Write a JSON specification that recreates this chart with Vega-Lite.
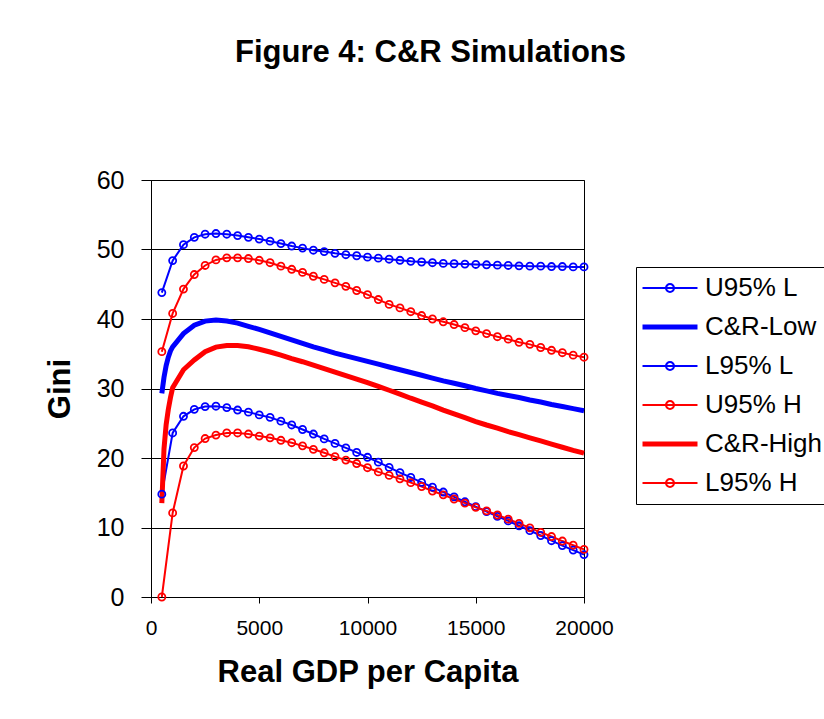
{
  "$schema": "https://vega.github.io/schema/vega-lite/v6.json",
  "autosize": "none",
  "width": 433,
  "height": 417,
  "padding": {"left": 151, "top": 180, "right": 240, "bottom": 122},
  "background": "white",
  "config": {
    "font": "Liberation Sans",
    "view": {"stroke": "#000000", "strokeWidth": 1}
  },
  "title": {
    "text": "Figure 4: C&R Simulations",
    "font": "Liberation Sans",
    "fontSize": 31,
    "fontWeight": "bold",
    "color": "#000000",
    "anchor": "middle",
    "frame": "group",
    "dx": 63,
    "offset": 99
  },
  "data": {
    "values": [
      {"x": 500, "UL": 43.8, "CL": 29.3, "LL": 14.8, "UH": 35.3, "CH": 13.5, "LH": 0},
      {"x": 600, "UL": null, "CL": 31.6, "LL": null, "UH": null, "CH": 21.3, "LH": null},
      {"x": 700, "UL": null, "CL": 33.3, "LL": null, "UH": null, "CH": 24.8, "LH": null},
      {"x": 800, "UL": null, "CL": 34.5, "LL": null, "UH": null, "CH": 27.0, "LH": null},
      {"x": 900, "UL": null, "CL": 35.4, "LL": null, "UH": null, "CH": 28.7, "LH": null},
      {"x": 1000, "UL": 48.4, "CL": 36.0, "LL": 23.6, "UH": 40.8, "CH": 30.1, "LH": 12.1},
      {"x": 1500, "UL": 50.7, "CL": 37.9, "LL": 26.0, "UH": 44.3, "CH": 32.7, "LH": 18.85},
      {"x": 2000, "UL": 51.75, "CL": 39.1, "LL": 27.0, "UH": 46.4, "CH": 34.1, "LH": 21.5},
      {"x": 2500, "UL": 52.2, "CL": 39.7, "LL": 27.4, "UH": 47.7, "CH": 35.3, "LH": 22.8},
      {"x": 3000, "UL": 52.3, "CL": 39.85, "LL": 27.45, "UH": 48.5, "CH": 35.95, "LH": 23.3},
      {"x": 3500, "UL": 52.2, "CL": 39.7, "LL": 27.25, "UH": 48.8, "CH": 36.2, "LH": 23.6},
      {"x": 4000, "UL": 52.0, "CL": 39.4, "LL": 26.9, "UH": 48.8, "CH": 36.2, "LH": 23.6},
      {"x": 4500, "UL": 51.75, "CL": 38.95, "LL": 26.6, "UH": 48.7, "CH": 36.0, "LH": 23.45},
      {"x": 5000, "UL": 51.5, "CL": 38.5, "LL": 26.2, "UH": 48.45, "CH": 35.65, "LH": 23.15},
      {"x": 5500, "UL": 51.2, "CL": 38.0, "LL": 25.85, "UH": 48.1, "CH": 35.25, "LH": 22.9},
      {"x": 6000, "UL": 50.85, "CL": 37.5, "LL": 25.3, "UH": 47.6, "CH": 34.8, "LH": 22.55},
      {"x": 6500, "UL": 50.5, "CL": 37.0, "LL": 24.75, "UH": 47.15, "CH": 34.3, "LH": 22.2},
      {"x": 7000, "UL": 50.2, "CL": 36.5, "LL": 24.1, "UH": 46.7, "CH": 33.85, "LH": 21.75},
      {"x": 7500, "UL": 49.9, "CL": 36.0, "LL": 23.45, "UH": 46.15, "CH": 33.35, "LH": 21.25},
      {"x": 8000, "UL": 49.7, "CL": 35.55, "LL": 22.75, "UH": 45.7, "CH": 32.85, "LH": 20.75},
      {"x": 8500, "UL": 49.45, "CL": 35.1, "LL": 22.1, "UH": 45.2, "CH": 32.35, "LH": 20.2},
      {"x": 9000, "UL": 49.25, "CL": 34.7, "LL": 21.45, "UH": 44.7, "CH": 31.85, "LH": 19.7},
      {"x": 9500, "UL": 49.1, "CL": 34.3, "LL": 20.8, "UH": 44.1, "CH": 31.35, "LH": 19.2},
      {"x": 10000, "UL": 48.9, "CL": 33.9, "LL": 20.1, "UH": 43.5, "CH": 30.85, "LH": 18.6},
      {"x": 10500, "UL": 48.75, "CL": 33.5, "LL": 19.4, "UH": 42.8, "CH": 30.3, "LH": 18.0},
      {"x": 11000, "UL": 48.6, "CL": 33.1, "LL": 18.65, "UH": 42.1, "CH": 29.75, "LH": 17.5},
      {"x": 11500, "UL": 48.45, "CL": 32.7, "LL": 17.9, "UH": 41.6, "CH": 29.2, "LH": 17.0},
      {"x": 12000, "UL": 48.3, "CL": 32.3, "LL": 17.2, "UH": 41.05, "CH": 28.6, "LH": 16.45},
      {"x": 12500, "UL": 48.2, "CL": 31.9, "LL": 16.5, "UH": 40.5, "CH": 28.05, "LH": 15.9},
      {"x": 13000, "UL": 48.1, "CL": 31.5, "LL": 15.8, "UH": 40.0, "CH": 27.5, "LH": 15.25},
      {"x": 13500, "UL": 48.0, "CL": 31.1, "LL": 15.1, "UH": 39.6, "CH": 26.9, "LH": 14.7},
      {"x": 14000, "UL": 47.95, "CL": 30.75, "LL": 14.4, "UH": 39.2, "CH": 26.35, "LH": 14.1},
      {"x": 14500, "UL": 47.9, "CL": 30.4, "LL": 13.7, "UH": 38.75, "CH": 25.8, "LH": 13.5},
      {"x": 15000, "UL": 47.85, "CL": 30.0, "LL": 13.0, "UH": 38.3, "CH": 25.25, "LH": 12.9},
      {"x": 15500, "UL": 47.8, "CL": 29.65, "LL": 12.3, "UH": 37.9, "CH": 24.75, "LH": 12.4},
      {"x": 16000, "UL": 47.75, "CL": 29.3, "LL": 11.6, "UH": 37.45, "CH": 24.3, "LH": 11.8},
      {"x": 16500, "UL": 47.7, "CL": 29.0, "LL": 10.95, "UH": 37.1, "CH": 23.8, "LH": 11.2},
      {"x": 17000, "UL": 47.65, "CL": 28.7, "LL": 10.25, "UH": 36.65, "CH": 23.35, "LH": 10.6},
      {"x": 17500, "UL": 47.6, "CL": 28.35, "LL": 9.55, "UH": 36.35, "CH": 22.9, "LH": 9.95},
      {"x": 18000, "UL": 47.6, "CL": 28.05, "LL": 8.85, "UH": 35.9, "CH": 22.45, "LH": 9.3},
      {"x": 18500, "UL": 47.55, "CL": 27.7, "LL": 8.1, "UH": 35.5, "CH": 22.0, "LH": 8.7},
      {"x": 19000, "UL": 47.55, "CL": 27.4, "LL": 7.4, "UH": 35.15, "CH": 21.55, "LH": 8.05},
      {"x": 19500, "UL": 47.5, "CL": 27.1, "LL": 6.75, "UH": 34.8, "CH": 21.1, "LH": 7.45},
      {"x": 20000, "UL": 47.5, "CL": 26.8, "LL": 6.1, "UH": 34.5, "CH": 20.7, "LH": 6.85}
    ]
  },
  "transform": [
    {"fold": ["UL", "CL", "LL", "UH", "CH", "LH"], "as": ["key", "gini"]},
    {"lookup": "key", "from": {"data": {"values": [
      {"key": "UL", "series": "U95% L"},
      {"key": "CL", "series": "C&R-Low"},
      {"key": "LL", "series": "L95% L"},
      {"key": "UH", "series": "U95% H"},
      {"key": "CH", "series": "C&R-High"},
      {"key": "LH", "series": "L95% H"}
    ]}, "key": "key", "fields": ["series"]}},
    {"filter": "isValid(datum.gini)"}
  ],
  "encoding": {
    "x": {
      "field": "x", "type": "quantitative",
      "scale": {"domain": [0, 20000], "nice": false, "zero": false},
      "axis": {
        "values": [0, 5000, 10000, 15000, 20000],
        "format": "d",
        "grid": false,
        "labelFlush": false,
        "domainColor": "#000000",
        "tickColor": "#000000",
        "tickSize": 6,
        "labelFontSize": 21,
        "labelColor": "#000000",
        "labelPadding": 14,
        "title": "Real GDP per Capita",
        "titleFontSize": 31,
        "titleFontWeight": "bold",
        "titleColor": "#000000",
        "titlePadding": 19
      }
    },
    "y": {
      "field": "gini", "type": "quantitative",
      "scale": {"domain": [0, 60], "nice": false},
      "axis": {
        "values": [0, 10, 20, 30, 40, 50, 60],
        "grid": true,
        "gridColor": "#000000",
        "gridOpacity": 1,
        "gridWidth": 1,
        "domainColor": "#000000",
        "tickColor": "#000000",
        "tickSize": 10,
        "labelFontSize": 25,
        "labelColor": "#000000",
        "labelPadding": 17,
        "title": "Gini",
        "titleFontSize": 31,
        "titleFontWeight": "bold",
        "titleColor": "#000000",
        "titlePadding": 20
      }
    },
    "color": {
      "field": "series", "type": "nominal",
      "scale": {
        "domain": ["U95% L", "C&R-Low", "L95% L", "U95% H", "C&R-High", "L95% H"],
        "range": ["#0000FF", "#0000FF", "#0000FF", "#FF0000", "#FF0000", "#FF0000"]
      },
      "legend": {
        "title": null,
        "orient": "none",
        "legendX": 485,
        "legendY": 87,
        "padding": 8,
        "strokeColor": "#000000",
        "fillColor": "#FFFFFF",
        "labelFont": "Liberation Sans",
        "labelFontSize": 26,
        "labelColor": "#000000",
        "labelLimit": 300,
        "symbolSize": 756,
        "symbolOffset": 13,
        "labelOffset": 22,
        "rowPadding": 13,
        "encode": {
          "symbols": {
            "update": {
              "shape": {"signal": "(datum.value === 'C&R-Low' || datum.value === 'C&R-High') ? 'M-2,0H2' : 'M-2,0H2M-0.29,0A0.29,0.29 0 1,1 0.29,0A0.29,0.29 0 1,1 -0.29,0'"},
              "strokeWidth": {"signal": "(datum.value === 'C&R-Low' || datum.value === 'C&R-High') ? 5 : 2"},
              "fill": {"value": "transparent"},
              "opacity": {"value": 1}
            }
          }
        }
      }
    }
  },
  "layer": [
    {
      "transform": [{"filter": {"field": "series", "oneOf": ["U95% L", "L95% L", "U95% H", "L95% H"]}}],
      "mark": {"type": "line", "strokeWidth": 2}
    },
    {
      "transform": [{"filter": {"field": "series", "oneOf": ["C&R-Low", "C&R-High"]}}],
      "mark": {"type": "line", "strokeWidth": 5}
    },
    {
      "transform": [{"filter": {"field": "series", "oneOf": ["U95% L", "L95% L", "U95% H", "L95% H"]}}],
      "mark": {"type": "point", "shape": "circle", "filled": false, "size": 50, "strokeWidth": 1.8, "opacity": 1}
    }
  ]
}
